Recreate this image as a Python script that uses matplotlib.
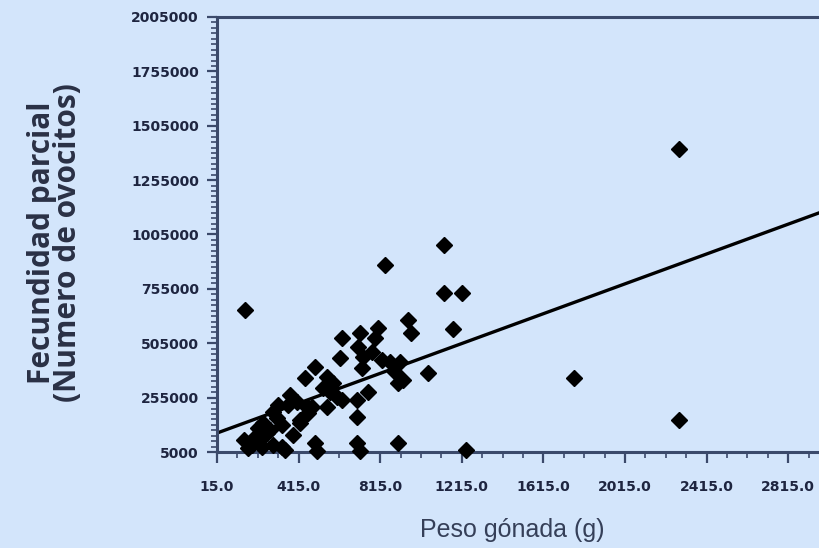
import numpy as np
import matplotlib
matplotlib.use("Agg")
import matplotlib.pyplot as plt
from matplotlib.ticker import MultipleLocator, FixedLocator

# Peso gonada (g) vs fecundidad parcial
peso = [152, 2280, 2280, 1766, 1238, 1130, 1130, 1214, 1170, 1047,
        949, 964, 901, 837, 627, 617, 715, 803, 788, 705,
        729, 724, 822, 861, 910, 925, 901, 754, 700, 700,
        494, 446, 553, 583, 568, 534, 602, 553, 627, 455,
        460, 421, 494, 504, 700, 715, 773, 372, 406, 362,
        313, 289, 309, 333, 274, 240, 260, 216, 201, 186,
        167, 235, 289, 333, 348, 387, 421, 480, 886, 225,
        147]
fecundidad = [658000, 1398000, 152000, 345000, 14000, 957000, 736000, 736000, 570000, 368000,
              612000, 552000, 46000, 865000, 529000, 437000, 552000, 575000, 529000, 488000,
              442000, 391000, 428000, 419000, 419000, 336000, 322000, 281000, 244000, 166000,
              396000, 345000, 350000, 322000, 281000, 299000, 258000, 212000, 244000, 212000,
              184000, 152000, 46000, 10000, 46000, 10000, 465000, 267000, 235000, 221000,
              221000, 189000, 161000, 129000, 106000, 138000, 92000, 115000, 74000, 37000,
              23000, 28000, 37000, 28000, 12000, 83000, 138000, 212000, 373000, 60000,
              60000]

# regression line
intercept = 87000
slope = 343

x_min, x_max = 15, 2966
y_min, y_max = 5000, 2005000

bg = "#d3e5fb"
axis_col = "#3b4a6b"

fig = plt.figure(figsize=(8.19, 5.48), dpi=100, facecolor=bg)
ax = fig.add_axes([217 / 819, 96 / 548, 1 - 217 / 819, 435 / 548])
ax.set_facecolor(bg)

ax.plot(peso, fecundidad, linestyle="none", marker="D", markersize=8.5,
        color="black", clip_on=False, zorder=3)
fit_x = np.array([x_min, x_max])
ax.plot(fit_x, intercept + slope * fit_x, color="black", linewidth=2.4, zorder=2)

ax.set_xlim(x_min, x_max)
ax.set_ylim(y_min, y_max)

x_major = np.arange(15, 3000, 400)
y_major = np.arange(5000, 2005001, 250000)
ax.xaxis.set_major_locator(FixedLocator(x_major))
ax.xaxis.set_minor_locator(FixedLocator(np.arange(15, 3000, 100)))
ax.yaxis.set_major_locator(FixedLocator(y_major))
ax.yaxis.set_minor_locator(MultipleLocator(25000, offset=5000))
ax.set_xticklabels([f"{v:.1f}" for v in x_major])
ax.set_yticklabels([f"{v:d}" for v in y_major])

for lab in ax.get_xticklabels():
    lab.set(fontsize=10, color="#1e2540", weight="bold")
for lab in ax.get_yticklabels():
    lab.set(fontsize=10, color="#1e2540", weight="bold")

ax.tick_params(axis="x", which="major", direction="out", length=8, width=1.6,
               color=axis_col, pad=12)
ax.tick_params(axis="y", which="major", direction="out", length=7, width=1.6,
               color=axis_col, pad=6)
ax.tick_params(which="minor", direction="out", length=4, width=1.2, color=axis_col)

for side in ["left", "bottom", "top"]:
    ax.spines[side].set_color(axis_col)
    ax.spines[side].set_linewidth(2.2)
ax.spines["right"].set_visible(False)

fig.text(512 / 819, 1 - 530 / 548, "Peso gónada (g)", fontsize=18, color="#353f58",
         ha="center", va="center", family=["Liberation Sans", "DejaVu Sans"])
fig.text(55 / 819, 1 - 243 / 548, "Fecundidad parcial\n(Numero de ovocitos)", rotation=90,
         ha="center", va="center", fontsize=21.5, fontweight="bold",
         color="#2a3045", family=["Open Sans", "DejaVu Sans"], linespacing=0.8)

fig.savefig("out.png", dpi=100, facecolor=bg)
